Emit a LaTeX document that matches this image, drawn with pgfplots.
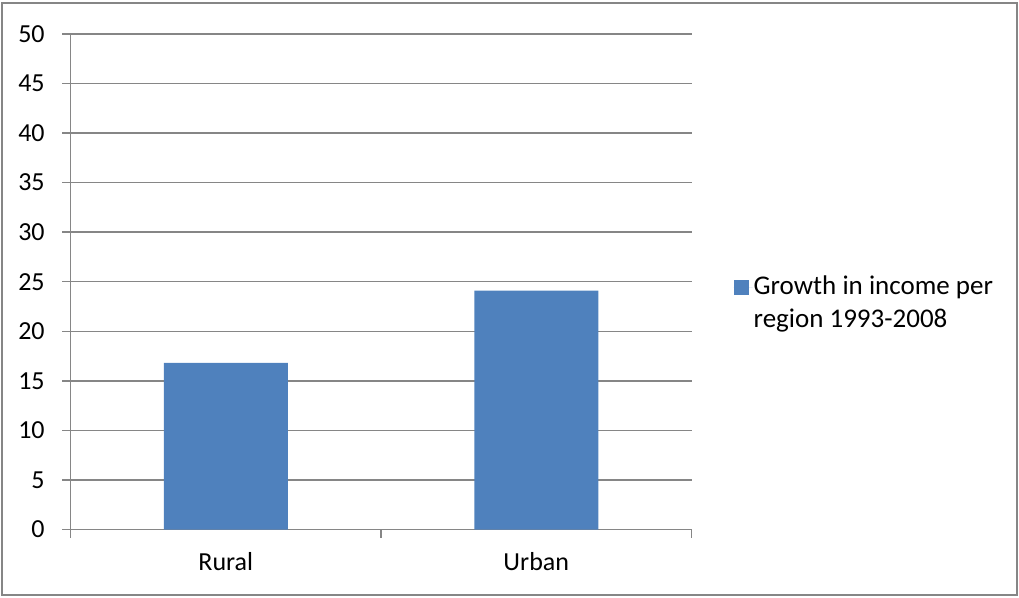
\documentclass[border=0pt]{standalone}
\usepackage{fontspec}
\setmainfont{Carlito}
\usepackage{pgfplots}
\pgfplotsset{compat=1.18}
\definecolor{barblue}{HTML}{4F81BD}
\definecolor{gridgray}{HTML}{868686}
\begin{document}
\fontsize{26}{33}\selectfont
\begin{tikzpicture}[x=1pt,y=1pt]
\begin{axis}[
  name=ax,
  scale only axis, width=621pt, height=495.6pt,
  xmin=0.5, xmax=2.5, ymin=0, ymax=50,
  ytick={0,5,...,50},
  xtick={0.5,1.5,2.5}, xticklabels={},
  extra x ticks={1,2}, extra x tick labels={Rural,Urban},
  extra x tick style={major tick length=0pt, grid=none,
    xticklabel style={yshift=-14pt}},
  yticklabel style={xshift=-9pt},
  axis x line*=bottom, axis y line*=left,
  axis line style={gridgray, line width=1.5pt, -},
  ymajorgrids, grid style={gridgray, line width=1.5pt},
  tick style={gridgray, line width=1.5pt},
  major tick length=8pt, tick align=outside,
  /pgf/number format/assume math mode=true,
  tick label style={font=\fontsize{26}{33}\selectfont, text=black},
  ybar, bar width=124pt,
  legend style={draw=none, fill=none, at={(1,0.5)}, anchor=west, xshift=39pt, yshift=-22pt,
    nodes={align=left, font=\fontsize{27}{33}\selectfont, inner sep=1pt}},
  legend cell align=left,
  legend image code/.code={%
    \fill[barblue] (0pt,9pt) rectangle (15pt,24pt);
    \path (0pt,16pt) -- (19pt,16pt);},
]
\addplot[fill=barblue, draw=none] coordinates {(1,16.8) (2,24.1)};
\addlegendentry{Growth in income per\\region 1993-2008}
\end{axis}
\pgfresetboundingbox
\useasboundingbox ([shift={(-70.5pt,-67.5pt)}]ax.south west) rectangle ([shift={(948.5pt,529.5pt)}]ax.south west);
\draw[gridgray, line width=1.5pt] ([shift={(-68.5pt,-65.5pt)}]ax.south west) rectangle ([shift={(946.5pt,526.5pt)}]ax.south west);
\end{tikzpicture}
\end{document}
